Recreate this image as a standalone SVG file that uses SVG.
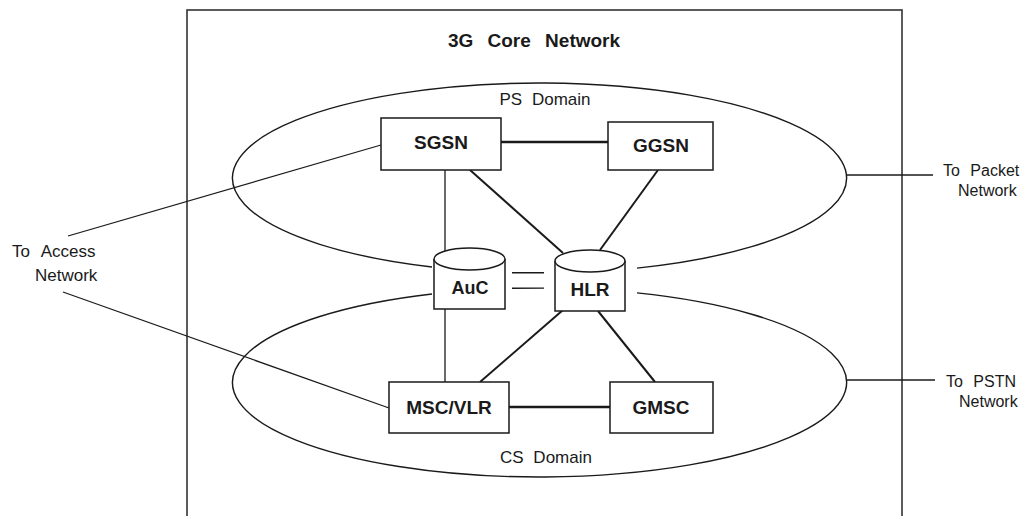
<svg xmlns="http://www.w3.org/2000/svg" width="1034" height="516" viewBox="0 0 1034 516">
<style>
text{font-family:"Liberation Sans",Arial,sans-serif;fill:#1a1a1a}
.lbl{font-size:16px}
.nd{font-size:19px;font-weight:bold;text-anchor:middle}
.box{fill:#fff;stroke:#1a1a1a;stroke-width:1.5}
.ell{fill:none;stroke:#1a1a1a;stroke-width:1.4}
.thin{stroke:#1a1a1a;stroke-width:1.3;fill:none}
.mid{stroke:#1a1a1a;stroke-width:2;fill:none}
.thick{stroke:#1a1a1a;stroke-width:2.6;fill:none}
</style>
<rect width="1034" height="516" fill="#fff"/>
<g id="core-network">
<rect x="187" y="10" width="715" height="520" fill="none" stroke="#333" stroke-width="1.6"/>
<text x="534" y="47" text-anchor="middle" style="font-size:19px;font-weight:bold" word-spacing="9">3G Core Network</text>
</g>
<g id="ps-domain">
<path class="ell" d="M432 267 A307 95 0 1 1 637 268.1"/>
<path class="ell" d="M512 272.7 L544 272.8"/>
<text class="lbl" x="545" y="105" text-anchor="middle" style="font-size:17px" word-spacing="5">PS Domain</text>
</g>
<g id="cs-domain">
<path class="ell" d="M432 294 A307 94.5 0 1 0 637 292.9"/>
<path class="ell" d="M512 288.2 L544 288.1"/>
<text class="lbl" x="546" y="463" text-anchor="middle" style="font-size:17px" word-spacing="5">CS Domain</text>
</g>
<g id="connectors">
<line class="thin" x1="68" y1="236" x2="381" y2="145"/>
<line class="thin" x1="63" y1="292" x2="389" y2="408"/>
<line class="thin" x1="847" y1="175" x2="933" y2="175"/>
<line class="thin" x1="847" y1="380" x2="935" y2="380"/>
<line class="thick" x1="501" y1="142" x2="608" y2="142"/>
<line class="thick" x1="509" y1="407" x2="610" y2="407"/>
<line class="thin" x1="445" y1="170" x2="445" y2="252"/>
<line class="thin" x1="445" y1="309" x2="445" y2="382"/>
<line class="mid" x1="470" y1="170" x2="563" y2="253"/>
<line class="mid" x1="658" y1="170" x2="600" y2="250"/>
<line class="mid" x1="563" y1="310" x2="480" y2="382"/>
<line class="mid" x1="598" y1="311" x2="655" y2="382"/>
</g>
<g id="to-access">
<text class="lbl" x="12" y="257" style="font-size:17px" word-spacing="7">To Access</text>
<text class="lbl" x="35" y="281" style="font-size:17px">Network</text>
</g>
<g id="to-packet">
<text class="lbl" x="943" y="176" word-spacing="6">To Packet</text>
<text class="lbl" x="958" y="196">Network</text>
</g>
<g id="to-pstn">
<text class="lbl" x="946" y="387" word-spacing="6">To PSTN</text>
<text class="lbl" x="959" y="407">Network</text>
</g>
<g id="sgsn">
<rect class="box" x="381" y="118" width="120" height="52"/>
<text class="nd" x="441" y="149">SGSN</text>
</g>
<g id="ggsn">
<rect class="box" x="608" y="122" width="105" height="48"/>
<text class="nd" x="661" y="152">GGSN</text>
</g>
<g id="auc">
<path class="box" d="M434 259 L434 309 L505 309 L505 259"/>
<ellipse class="box" cx="469.5" cy="259" rx="35.5" ry="11"/>
<text class="nd" x="470" y="294" style="font-size:18px">AuC</text>
</g>
<g id="hlr">
<path class="box" d="M555 261 L555 311 L625 311 L625 261"/>
<ellipse class="box" cx="590" cy="261" rx="35" ry="11"/>
<text class="nd" x="590" y="296">HLR</text>
</g>
<g id="msc-vlr">
<rect class="box" x="389" y="382" width="120" height="51"/>
<text class="nd" x="449" y="414">MSC/VLR</text>
</g>
<g id="gmsc">
<rect class="box" x="610" y="382" width="103" height="51"/>
<text class="nd" x="661" y="414">GMSC</text>
</g>
</svg>
